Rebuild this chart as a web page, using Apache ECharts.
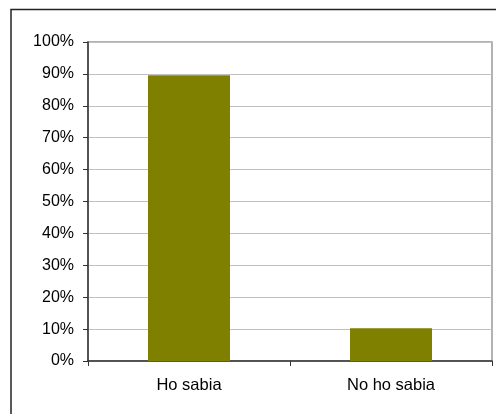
<!DOCTYPE html>
<html><head><meta charset="utf-8">
<script src="https://cdn.jsdelivr.net/npm/echarts@6/dist/echarts.min.js"></script>
<style>html,body{margin:0;padding:0;background:#fff}#c{width:496px;height:414px}</style>
</head><body><div id="c"></div>
<script>
var categories = ['Ho sabia', 'No ho sabia'];
var values = [89.6, 10.3];
var chart = echarts.init(document.getElementById('c'), null, {renderer:'canvas'});
chart.setOption({
  animation: false,
  backgroundColor: '#fff',
  graphic: [
    {type:'rect', shape:{x:11,y:9.5,width:600,height:600}, style:{fill:null, stroke:'#222', lineWidth:1.5}, z:-1},
    {type:'rect', shape:{x:88,y:42,width:404,height:319}, style:{fill:null, stroke:'#999', lineWidth:1.5}, z:0}
  ],
  grid: {left:88, right:4, top:42, bottom:53},
  xAxis: {
    type:'category', data: categories,
    axisLine:{lineStyle:{color:'#333', width:1.5}},
    axisTick:{show:true, alignWithLabel:false, length:5, lineStyle:{color:'#333'}},
    axisLabel:{color:'#000', fontFamily:'Liberation Sans', fontSize:16.5, margin:16}
  },
  yAxis: {
    type:'value', min:0, max:100, interval:10,
    axisLine:{show:true, lineStyle:{color:'#333', width:1.5}},
    axisTick:{show:true, length:5, lineStyle:{color:'#333'}},
    axisLabel:{color:'#000', fontFamily:'Liberation Sans', fontSize:16, margin:14, formatter:'{value}%'},
    splitLine:{lineStyle:{color:'#c0c0c0', width:1}}
  },
  series: [{
    type:'bar', data: values, barWidth:'40.6%',
    itemStyle:{color:'#808000'}
  }]
});
</script></body></html>
